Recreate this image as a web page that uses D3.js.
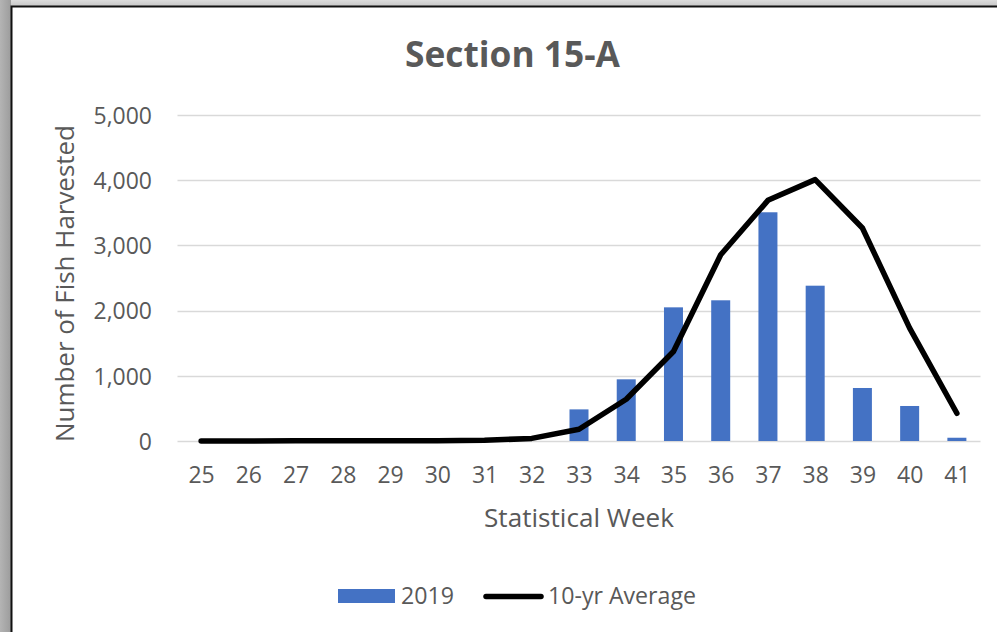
<!DOCTYPE html>
<html><head><meta charset="utf-8">
<script src="https://cdn.jsdelivr.net/npm/d3@7"></script>
<style>html,body{margin:0;padding:0;background:#fff;overflow:hidden}</style>
</head><body>
<svg id="c" width="997" height="632"></svg>
<script>
const weeks = ["25","26","27","28","29","30","31","32","33","34","35","36","37","38","39","40","41"];
const harvest2019 = [0,0,0,0,0,0,0,0,485,946,2050,2158,3508,2382,813,537,50];
const tenYearAvg = [0,0,2,3,3,5,10,40,180,640,1372,2857,3691,4009,3267,1731,425];
const yTicks = [0,1000,2000,3000,4000,5000];
const seriesNames = ["2019","10-yr Average"];
const titleText = "Section 15-A";
const xTitle = "Statistical Week";
const yTitle = "Number of Fish Harvested";

(function(){
const FONT = "'Open Sans', sans-serif";
const TXT = "#595959";
const svg = d3.select("#c");

// frame background
const defs = svg.append("defs");
const gTop = defs.append("linearGradient").attr("id","gt").attr("x1",0).attr("x2",0).attr("y1",0).attr("y2",1);
gTop.append("stop").attr("offset",0).attr("stop-color","#dcdcdc");
gTop.append("stop").attr("offset",1).attr("stop-color","#c8c8c8");
const gLeft = defs.append("linearGradient").attr("id","gl").attr("x1",0).attr("x2",1).attr("y1",0).attr("y2",0);
gLeft.append("stop").attr("offset",0).attr("stop-color","#b4b4b4");
gLeft.append("stop").attr("offset",1).attr("stop-color","#9c9c9c");
svg.append("rect").attr("x",0).attr("y",0).attr("width",997).attr("height",6).attr("fill","url(#gt)");
svg.append("rect").attr("x",0).attr("y",0).attr("width",11).attr("height",632).attr("fill","url(#gl)");
svg.append("path").attr("d","M11.5,632V6.5H997").attr("fill","none").attr("stroke","#111").attr("stroke-width",2);

const pl = 177.5, pr = 980.5, pt = 115, pb = 441;
const xc = d3.scalePoint().domain(weeks).range([pl,pr]).padding(0.5);
const y = d3.scaleLinear().domain([0,5000]).range([pb,pt]);

function fit(sel, w){
  const n = sel.node(); const fs = +sel.attr("font-size");
  const cur = n.getComputedTextLength();
  if (cur > 0) sel.attr("font-size", fs*w/cur);
}

// gridlines
svg.append("g").selectAll("line").data(yTicks).join("line")
  .attr("x1",pl).attr("x2",pr)
  .attr("y1",d=>Math.round(y(d))+0.5).attr("y2",d=>Math.round(y(d))+0.5)
  .attr("stroke","#d9d9d9").attr("stroke-width",1.5);

// tick font size fitted so "5,000" is ~58px wide
const probe = svg.append("text").attr("font-family",FONT).attr("font-size",20).text(d3.format(",")(5000));
fit(probe,58.5);
const TFS = +probe.attr("font-size");
probe.remove();

// y axis
const yAxis = d3.axisLeft(y).tickValues(yTicks).tickSize(0).tickPadding(0).tickFormat(d3.format(","));
const ya = svg.append("g").attr("transform","translate(152,0)").call(yAxis);
ya.select(".domain").remove();
ya.selectAll("text").attr("font-family",FONT).attr("font-size",TFS).attr("fill",TXT).attr("dy","0.36em");

// x axis
const xAxis = d3.axisBottom(xc).tickSize(0).tickPadding(0);
const xa = svg.append("g").attr("transform","translate(0,483)").call(xAxis);
xa.select(".domain").remove();
xa.selectAll("text").attr("font-family",FONT).attr("font-size",TFS).attr("fill",TXT).attr("y",0).attr("dy","0");

// bars
svg.append("g").selectAll("rect").data(weeks.map((w,i)=>({w,v:harvest2019[i]}))).join("rect")
  .attr("x",d=>xc(d.w)-9.5).attr("width",19)
  .attr("y",d=>y(d.v)).attr("height",d=>pb-y(d.v))
  .attr("fill","#4472c4");

// line
const line = d3.line().x((d,i)=>xc(weeks[i])).y(d=>y(d));
svg.append("path").datum(tenYearAvg).attr("d",line)
  .attr("fill","none").attr("stroke","#000").attr("stroke-width",5.5)
  .attr("stroke-linejoin","round").attr("stroke-linecap","round");

// title
const t = svg.append("text").attr("x",512.5).attr("y",67).attr("text-anchor","middle")
  .attr("font-family",FONT).attr("font-weight","bold").attr("font-size",30).attr("fill",TXT).text(titleText);
fit(t,215);

// x title
const xt = svg.append("text").attr("x",579).attr("y",527).attr("text-anchor","middle")
  .attr("font-family",FONT).attr("font-size",22).attr("fill",TXT).text(xTitle);
fit(xt,190);

// y title
const yt = svg.append("text").attr("transform","translate(74,283.5) rotate(-90)").attr("text-anchor","middle")
  .attr("font-family",FONT).attr("font-size",22).attr("fill",TXT).text(yTitle);
fit(yt,317);

// legend
const lg = svg.append("g");
lg.append("rect").attr("x",338).attr("y",589).attr("width",57).attr("height",14).attr("fill","#4472c4");
const l1 = lg.append("text").attr("x",401).attr("y",604).attr("font-family",FONT).attr("font-size",20).attr("fill",TXT).text(seriesNames[0]);
fit(l1,53);
lg.append("line").attr("x1",486).attr("x2",541).attr("y1",596.5).attr("y2",596.5)
  .attr("stroke","#000").attr("stroke-width",5.5).attr("stroke-linecap","round");
const l2 = lg.append("text").attr("x",548).attr("y",604).attr("font-family",FONT).attr("font-size",20).attr("fill",TXT).text(seriesNames[1]);
fit(l2,148);
})();
</script>
</body></html>
